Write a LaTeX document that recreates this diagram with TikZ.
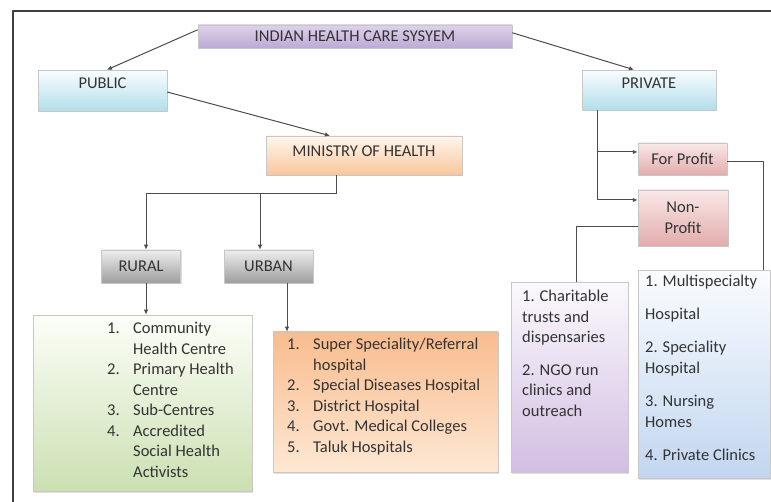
\documentclass[tikz,border=0pt]{standalone}
\usepackage{fontspec}
\setmainfont{Carlito}
\usetikzlibrary{arrows.meta,shadows}

\definecolor{titletop}{RGB}{222,210,234}
\definecolor{titlebot}{RGB}{188,170,212}
\definecolor{bluetop}{RGB}{250,253,255}
\definecolor{bluebot}{RGB}{178,222,234}
\definecolor{orangetop}{RGB}{255,246,236}
\definecolor{orangebot}{RGB}{250,198,156}
\definecolor{pinktop}{RGB}{250,232,232}
\definecolor{pinkbot}{RGB}{226,172,172}
\definecolor{graytop}{RGB}{238,238,238}
\definecolor{graybot}{RGB}{158,158,158}
\definecolor{greentop}{RGB}{252,254,248}
\definecolor{greenbot}{RGB}{204,224,178}
\definecolor{urbantop}{RGB}{249,188,142}
\definecolor{urbanbot}{RGB}{253,232,212}
\definecolor{lilactop}{RGB}{251,249,253}
\definecolor{lilacbot}{RGB}{210,190,226}
\definecolor{skytop}{RGB}{250,252,255}
\definecolor{skybot}{RGB}{194,214,240}

\newcommand{\lnum}[1]{\makebox[26pt][l]{#1}}
\newcommand{\lgap}{\hspace*{26pt}}

\begin{document}
\begin{tikzpicture}[line join=round,
x=1pt,
y=-1pt,
>={Latex[length=5pt,width=4.5pt]},
every node/.style={font=\fontsize{16.5}{20.5}\selectfont, text=black!80},
box/.style={draw=black!22, line width=0.5pt, inner sep=0pt,
  drop shadow={opacity=0.25, shadow xshift=1.2pt, shadow yshift=-1.5pt}},
link/.style={draw=black!70, line width=1pt}]

\useasboundingbox (0,0) rectangle (771,502);

% outer frame
\draw[line width=1.8pt, black!75] (13,502) -- (13,11) -- (771,11);

% top levels
\node[box, top color=titletop, bottom color=titlebot, minimum width=314pt, minimum height=23pt] (title) at (355,36.5) {INDIAN HEALTH CARE SYSYEM};
\node[box, top color=bluetop, bottom color=bluebot, minimum width=129pt, minimum height=41pt, text depth=14pt] (public) at (102.5,90.5) {PUBLIC};
\node[box, top color=bluetop, bottom color=bluebot, minimum width=134pt, minimum height=40pt, text depth=14pt] (private) at (649,90) {PRIVATE};
\node[box, top color=orangetop, bottom color=orangebot, minimum width=196pt, minimum height=39pt, text depth=8pt] (ministry) at (364,155.5) {MINISTRY OF HEALTH};
\node[box, top color=pinktop, bottom color=pinkbot, minimum width=89pt, minimum height=32pt] (forprofit) at (682.5,159) {For Profit};
\node[box, top color=pinktop, bottom color=pinkbot, minimum width=90pt, minimum height=56pt, align=center] (nonprofit) at (683,218) {Non-\\Profit};
\node[box, top color=graytop, bottom color=graybot, minimum width=79pt, minimum height=33pt] (rural) at (141,266.5) {RURAL};
\node[box, top color=graytop, bottom color=graybot, minimum width=89pt, minimum height=33pt] (urban) at (268.5,266.5) {URBAN};

% list boxes
\node[box, top color=greentop, bottom color=greenbot, minimum width=219pt, minimum height=176pt] (rlist) at (142.5,403) {};
\node[box, top color=urbantop, bottom color=urbanbot, minimum width=225pt, minimum height=140pt] (ulist) at (385.5,402) {};
\node[box, top color=lilactop, bottom color=lilacbot, minimum width=117pt, minimum height=190pt] (nplist) at (569.5,377) {};
\node[box, top color=skytop, bottom color=skybot, minimum width=132pt, minimum height=208pt] (fplist) at (704,374) {};

% list texts
\node[anchor=north west, align=left, inner sep=0pt] (rtext) at (107,322)
  {\lnum{1.}Community\\\lgap Health Centre\\\lnum{2.}Primary Health\\\lgap Centre\\\lnum{3.}Sub-Centres\\\lnum{4.}Accredited\\\lgap Social Health\\\lgap Activists};
\node[anchor=north west, align=left, inner sep=0pt] (utext) at (287,338)
  {\lnum{1.}Super Speciality/Referral\\\lgap hospital\\\lnum{2.}Special Diseases Hospital\\\lnum{3.}District Hospital\\\lnum{4.}Govt. Medical Colleges\\\lnum{5.}Taluk Hospitals};
\node[anchor=north west, align=left, inner sep=0pt] (nptext) at (522,290)
  {1. Charitable\\trusts and\\dispensaries\\[12pt]2. NGO run\\clinics and\\outreach};
\node[anchor=north west, align=left, inner sep=0pt] (fptext) at (645,275)
  {1. Multispecialty\\[12pt]Hospital\\[13pt]2. Speciality\\Hospital\\[13pt]3. Nursing\\Homes\\[13pt]4. Private Clinics};

% links from the title
\draw[link,->] ([yshift=-5pt]title.north west) -- ([xshift=4.5pt]public.north);
\draw[link,->] ([yshift=-8pt]title.north east) -- ([xshift=-15pt]private.north);
\draw[link,->] ([yshift=-1.5pt]public.east) -- ([xshift=-34pt]ministry.north);

% ministry to rural and urban
\coordinate (msplit) at (336,194);
\draw[link] ([xshift=-28pt]ministry.south) -- (msplit);
\draw[link,->] (msplit) -| ([xshift=5pt]rural.north);
\draw[link,->] ([xshift=-8.5pt]urban.north |- msplit) -- ([xshift=-8.5pt]urban.north);

% down to the lists
\draw[link,->] ([xshift=5pt]rural.south) -- ([xshift=5pt]rural.south |- rlist.north);
\draw[link,->] ([xshift=18.5pt]urban.south) -- ([xshift=18.5pt]urban.south |- ulist.north);

% private branches
\coordinate (pdrop) at ([xshift=-52pt]private.south);
\coordinate (fpin) at ([yshift=7pt]forprofit.west);
\draw[link,->] (pdrop) |- ([yshift=18pt]nonprofit.west);
\draw[link,->] (pdrop |- fpin) -- (fpin);
\draw[link] ([yshift=-3pt]forprofit.east) -| ([xshift=-7pt]fplist.north east);
\draw[link] ([yshift=-9pt]nonprofit.west) -| ([xshift=6.5pt]nplist.north);

\end{tikzpicture}
\end{document}
